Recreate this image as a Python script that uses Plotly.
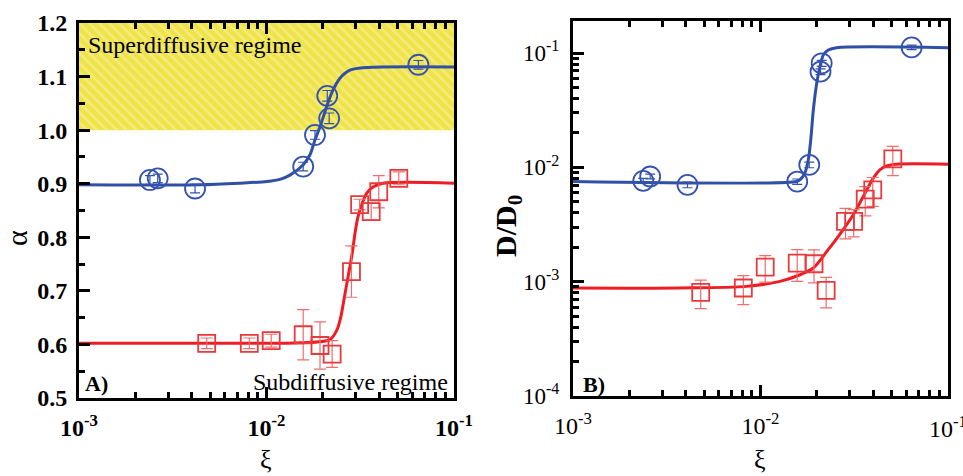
import plotly.graph_objects as go

# ---------------- data ----------------
# Panel A: alpha vs xi
blue_x_A = [0.00239, 0.00263, 0.00416, 0.0157, 0.01815, 0.0216, 0.0211, 0.0646]
blue_y_A = [0.907, 0.910, 0.891, 0.932, 0.991, 1.022, 1.064, 1.122]
blue_e_A = [0.008, 0.008, 0.008, 0.008, 0.008, 0.010, 0.010, 0.008]

red_x = [0.0048, 0.0081, 0.0106, 0.0157, 0.0193, 0.0224, 0.0284, 0.0314, 0.0362, 0.0397, 0.0508]
red_y_A = [0.602, 0.602, 0.607, 0.618, 0.598, 0.582, 0.736, 0.861, 0.848, 0.885, 0.910]
red_e_A = [0.010, 0.010, 0.012, 0.047, 0.044, 0.025, 0.048, 0.010, 0.016, 0.030, 0.012]

# fitted curves, points
blue_fit_x_A = [0.001, 0.00442, 0.00723, 0.01007, 0.0118, 0.01334, 0.01567, 0.01706, 0.01816,
                0.01928, 0.02153, 0.02265, 0.02466, 0.02786, 0.03436, 0.1]
blue_fit_y_A = [0.898, 0.898, 0.901, 0.904, 0.908, 0.916, 0.935, 0.954, 0.982,
                1.006, 1.056, 1.075, 1.097, 1.112, 1.117, 1.118]
red_fit_x_A = [0.001, 0.00804, 0.0151, 0.02183, 0.02377, 0.02495, 0.02588, 0.02685, 0.02786,
               0.02884, 0.02965, 0.03076, 0.03192, 0.03420, 0.03698, 0.04178, 0.1]
red_fit_y_A = [0.602, 0.602, 0.603, 0.609, 0.627, 0.652, 0.683, 0.714, 0.745,
               0.776, 0.807, 0.838, 0.857, 0.882, 0.894, 0.901, 0.901]

# Panel B: D/D0 vs xi
blue_x_B = [0.00237, 0.00258, 0.00408, 0.0157, 0.0182, 0.0209, 0.0212, 0.0640]
blue_y_B = [0.00762, 0.00832, 0.00703, 0.00751, 0.01052, 0.0687, 0.0813, 0.112]
blue_e_B = [0.0004, 0.0004, 0.0004, 0.0004, 0.0006, 0.004, 0.005, 0.005]

red_y_B = [0.000807, 0.000881, 0.00134, 0.001455, 0.001435, 0.00084, 0.00337, 0.00337,
           0.00527, 0.00635, 0.01186]
red_e_B = [0.000225, 0.00025, 0.00035, 0.00045, 0.00046, 0.00025, 0.0010, 0.0009,
           0.0015, 0.0018, 0.0034]

blue_fit_x_B = [0.001, 0.0156, 0.01626, 0.01726, 0.01799, 0.01854, 0.01914, 0.01995,
                0.02075, 0.02163, 0.02301, 0.02547, 0.1]
blue_fit_y_B = [0.00752, 0.00752, 0.00780, 0.00895, 0.01164, 0.01738, 0.03177, 0.05433,
                0.07586, 0.09616, 0.1062, 0.1112, 0.1112]
red_fit_x_B = [0.001, 0.00372, 0.00843, 0.01271, 0.01626, 0.01914, 0.02254, 0.02655,
               0.03126, 0.03532, 0.03999, 0.04335, 0.04710, 0.05321, 0.1]
red_fit_y_B = [0.000881, 0.000881, 0.00091, 0.001007, 0.00115, 0.001318, 0.00183, 0.00261,
               0.00385, 0.00556, 0.00805, 0.00951, 0.0103, 0.01067, 0.01067]

band_x = [0.001, 0.1, 0.1, 0.001, 0.001]
band_y = [1.0, 1.0, 1.2, 1.2, 1.0]

x_ticks = [1e-3, 1e-2, 1e-1]
x_ticktext = ["10<sup>-3</sup>", "10<sup>-2</sup>", "10<sup>-1</sup>"]
yB_ticks = [1e-4, 1e-3, 1e-2, 1e-1]
yB_ticktext = ["10<sup>-4</sup>", "10<sup>-3</sup>", "10<sup>-2</sup>", "10<sup>-1</sup>"]

# ---------------- styling ----------------
BLUE_LINE = "#3050A8"
BLUE_MK = "#3453B0"
RED_LINE = "#EE1C24"
RED_MK = "#E83A3C"
RED_ERR = "#EE6E6E"
SERIF = "'Liberation Serif', 'Times New Roman', Times, serif"

def font(size, bold=False):
    f = dict(family=SERIF, size=size, color="black")
    if bold:
        f["weight"] = "bold"
    return f

fig = go.Figure()

# yellow hatched band (superdiffusive regime)
fig.add_trace(go.Scatter(
    x=band_x, y=band_y, mode="lines", fill="toself", line=dict(width=0),
    fillcolor="#EFE34A",
    fillpattern=dict(shape="\\", bgcolor="#EFE34A", fgcolor="#FAF4B0", size=7, solidity=0.35),
    xaxis="x", yaxis="y", hoverinfo="skip", showlegend=False))

def add_panel(xa, ya, bfx, bfy, rfx, rfy, bx, by, be, rx, ry, re):
    fig.add_trace(go.Scatter(x=bfx, y=bfy, mode="lines", line=dict(color=BLUE_LINE, width=3, shape="spline", smoothing=0.8),
                             xaxis=xa, yaxis=ya, showlegend=False))
    fig.add_trace(go.Scatter(x=rfx, y=rfy, mode="lines", line=dict(color=RED_LINE, width=3, shape="spline", smoothing=0.8),
                             xaxis=xa, yaxis=ya, showlegend=False))
    fig.add_trace(go.Scatter(x=bx, y=by, mode="markers",
                             marker=dict(symbol="circle-open", size=20, color=BLUE_MK, line=dict(width=1.8, color=BLUE_MK)),
                             error_y=dict(type="data", array=be, color=BLUE_MK, thickness=1.2, width=5),
                             xaxis=xa, yaxis=ya, showlegend=False))
    fig.add_trace(go.Scatter(x=rx, y=ry, mode="markers",
                             marker=dict(symbol="square-open", size=17, color=RED_MK, line=dict(width=1.8, color=RED_MK)),
                             error_y=dict(type="data", array=re, color=RED_ERR, thickness=1.2, width=6),
                             xaxis=xa, yaxis=ya, showlegend=False))

add_panel("x", "y", blue_fit_x_A, blue_fit_y_A, red_fit_x_A, red_fit_y_A,
          blue_x_A, blue_y_A, blue_e_A, red_x, red_y_A, red_e_A)
add_panel("x2", "y2", blue_fit_x_B, blue_fit_y_B, red_fit_x_B, red_fit_y_B,
          blue_x_B, blue_y_B, blue_e_B, red_x, red_y_B, red_e_B)

minor_log_x = [m * 10 ** e for e in (-3, -2) for m in range(2, 10)]
minor_log_y = [m * 10 ** e for e in (-4, -3, -2, -1) for m in range(2, 10)]

def xaxis_cfg(domain, anchor, bold, ticktext):
    return dict(
        type="log", range=[-3, -1], domain=domain, anchor=anchor, automargin=False,
        showline=True, linewidth=3, linecolor="black", mirror="allticks",
        ticks="inside", ticklen=11, tickwidth=3, tickcolor="black",
        tickvals=x_ticks, ticktext=ticktext,
        minor=dict(ticks="inside", ticklen=6, tickwidth=3, tickcolor="black",
                   tickmode="array", tickvals=minor_log_x, showgrid=False),
        tickfont=font(24, bold),
        showgrid=False, zeroline=False, ticklabelstandoff=6)

# right panel: the last tick label runs past the page edge, drawn as annotation below
x2_ticktext = x_ticktext[:-1] + [""]
YB_DOMAIN = [0.168, 0.9559]

fig.update_layout(
    width=963, height=476, margin=dict(l=0, r=0, t=0, b=0, autoexpand=False),
    paper_bgcolor="white", plot_bgcolor="white",
    xaxis=xaxis_cfg([0.0820, 0.4714], "y", True, x_ticktext),
    xaxis2=xaxis_cfg([0.5950, 0.9844], "y2", False, x2_ticktext),
    yaxis=dict(
        range=[0.5, 1.2], domain=[0.1639, 0.9517], anchor="x", automargin=False,
        showline=True, linewidth=3, linecolor="black", mirror=True,
        ticks="inside", ticklen=11, tickwidth=3, tickcolor="black",
        dtick=0.1, tick0=0.5, tickformat=".1f",
        minor=dict(ticks="inside", ticklen=6, tickwidth=3, tickcolor="black", dtick=0.05, showgrid=False),
        tickfont=font(24, True),
        showgrid=False, zeroline=False, ticklabelstandoff=4),
    yaxis2=dict(
        type="log", range=[-4, -0.72], domain=YB_DOMAIN, anchor="x2", automargin=False,
        showline=True, linewidth=3, linecolor="black", mirror=True,
        ticks="inside", ticklen=11, tickwidth=3, tickcolor="black",
        tickvals=yB_ticks, ticktext=yB_ticktext,
        minor=dict(ticks="inside", ticklen=6, tickwidth=3, tickcolor="black",
                   tickmode="array", tickvals=minor_log_y, showgrid=False),
        tickfont=font(23),
        showgrid=False, zeroline=False, ticklabelstandoff=6),
)

# last x tick label of panel B (partly beyond the page edge in the reference)
fig.add_annotation(text=x_ticktext[-1], x=-1, y=YB_DOMAIN[0], xref="x2", yref="paper",
                   yshift=-14, showarrow=False,
                   xanchor="center", yanchor="top", font=font(24))

def ann(text, x, y, size, xanchor="center", yanchor="middle", angle=0, bold=False):
    fig.add_annotation(text=text, x=x, y=y, xref="paper", yref="paper", showarrow=False,
                       xanchor=xanchor, yanchor=yanchor, textangle=angle,
                       font=font(size, bold))

ann("Superdiffusive regime", 86 / 963, 1 - 45 / 476, 24, xanchor="left")
ann("Subdiffusive regime", 450 / 963, 1 - 382 / 476, 24, xanchor="right")
ann("A)", 83 / 963, 1 - 383 / 476, 22, xanchor="left", bold=True)
ann("B)", 581 / 963, 1 - 384 / 476, 22, xanchor="left", bold=True)
ann("α", 16 / 963, 1 - 238 / 476, 30, angle=-90)
ann("ξ", 266 / 963, 1 - 459 / 476, 26)
ann("ξ", 760 / 963, 1 - 459 / 476, 26)
ann("D/D<sub>0</sub>", 508 / 963, 1 - 226 / 476, 30, angle=-90, bold=True)

fig.write_html("out.html")
